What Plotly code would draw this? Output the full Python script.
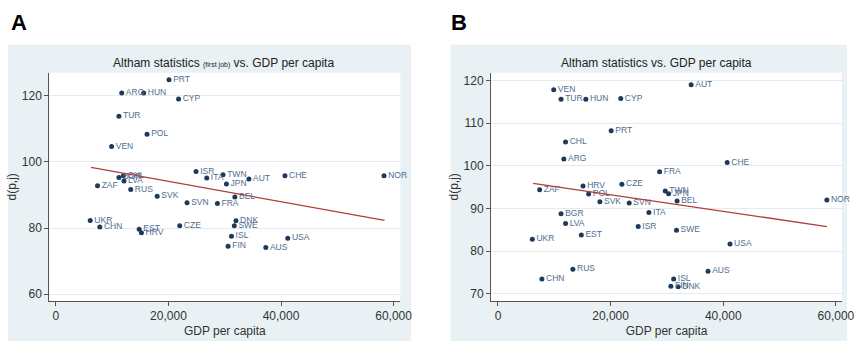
import plotly.graph_objects as go

# ---------------- Panel A data (first job) ----------------
a_countries = ["PRT", "ARG", "HUN", "CYP", "TUR", "POL", "VEN", "ISR", "ITA", "TWN",
               "JPN", "AUT", "CHE", "NOR", "BEL", "FRA", "SVN", "SVK", "RUS", "ZAF",
               "BGR", "CHL", "LVA", "UKR", "CHN", "EST", "HRV", "CZE", "DNK", "SWE",
               "ISL", "FIN", "AUS", "USA"]
a_gdp = [20100, 11700, 15600, 21800, 11200, 16200, 9900, 24900, 26800, 29700,
         30300, 34300, 40700, 58300, 31800, 28700, 23300, 18000, 13300, 7400,
         11200, 12000, 12100, 6100, 7800, 14800, 15200, 22000, 32000, 31700,
         31200, 30600, 37300, 41200]
a_d = [124.8, 120.8, 120.8, 119.0, 113.8, 108.3, 104.6, 97.1, 95.1, 96.1,
       93.3, 94.8, 95.8, 95.8, 89.4, 87.4, 87.6, 89.6, 91.6, 92.8,
       95.3, 95.8, 94.2, 82.3, 80.3, 79.6, 78.6, 80.7, 82.2, 80.7,
       77.5, 74.5, 74.1, 76.9]
a_fit_x = [6250, 58400]
a_fit_y = [98.3, 82.3]

# ---------------- Panel B data ----------------
b_countries = ["VEN", "TUR", "HUN", "CYP", "AUT", "PRT", "CHL", "ARG", "CHE", "FRA",
               "HRV", "CZE", "ZAF", "POL", "SVK", "SVN", "TWN", "JPN", "BEL", "NOR",
               "BGR", "ITA", "LVA", "ISR", "SWE", "EST", "UKR", "USA", "RUS", "AUS",
               "CHN", "ISL", "FIN", "DNK"]
b_gdp = [9900, 11200, 15600, 21800, 34300, 20100, 12000, 11700, 40700, 28700,
         15100, 22000, 7400, 16100, 18100, 23300, 29700, 30300, 31800, 58400,
         11200, 26800, 12000, 24900, 31700, 14800, 6100, 41200, 13300, 37300,
         7800, 31200, 30700, 32000]
b_d = [117.8, 115.6, 115.6, 115.8, 119.0, 108.2, 105.6, 101.6, 100.8, 98.6,
       95.3, 95.7, 94.4, 93.4, 91.6, 91.3, 94.1, 93.5, 91.8, 92.0,
       88.8, 89.1, 86.5, 85.8, 84.9, 83.8, 82.8, 81.7, 75.8, 75.3,
       73.5, 73.5, 71.8, 71.7]
b_fit_x = [6250, 58400]
b_fit_y = [95.9, 85.8]

x_ticks = [0, 20000, 40000, 60000]
a_y_ticks = [60, 80, 100, 120]
b_y_ticks = [70, 80, 90, 100, 110, 120]

W, H = 859, 345
MARKER = "#1c3a5e"
LABEL = "#4f6d8d"
FIT = "#b23c3c"
PANEL = "#e9f1f4"
FONT = "Liberation Sans, Arial, sans-serif"

def px(v):
    return v / W

def py(v):
    return 1 - v / H

fig = go.Figure()

for xs, ys, names, xa, ya in [(a_gdp, a_d, a_countries, "x", "y"),
                              (b_gdp, b_d, b_countries, "x2", "y2")]:
    fig.add_trace(go.Scatter(
        x=xs, y=ys, text=names, mode="markers+text",
        textposition="middle right",
        textfont=dict(size=8.5, color=LABEL, family=FONT),
        marker=dict(size=5, color=MARKER),
        xaxis=xa, yaxis=ya, showlegend=False, cliponaxis=False))

for fx, fy, xa, ya in [(a_fit_x, a_fit_y, "x", "y"), (b_fit_x, b_fit_y, "x2", "y2")]:
    fig.add_trace(go.Scatter(x=fx, y=fy, mode="lines",
                             line=dict(color=FIT, width=1.3),
                             xaxis=xa, yaxis=ya, showlegend=False))

axis_common = dict(
    showline=True, linecolor="#555555", linewidth=1,
    ticks="outside", ticklen=4, tickcolor="#555555",
    tickfont=dict(size=12, color="#333333", family=FONT),
    zeroline=False,
)

A_L, A_R, B_L, B_R, P_T, P_B = 50, 406, 498, 854, 73, 301.7

fig.update_layout(
    width=W, height=H,
    margin=dict(l=0, r=0, t=0, b=0),
    paper_bgcolor="white", plot_bgcolor="white",
    font=dict(family=FONT),
    xaxis=dict(domain=[px(A_L), px(A_R)], range=[-1170, 61200], anchor="y",
               tickvals=x_ticks, tickformat=",d", showgrid=False,
               title=dict(text="GDP per capita", font=dict(size=12, color="#333333"), standoff=4),
               **axis_common),
    yaxis=dict(domain=[py(P_B), py(P_T)], range=[58, 126.9], anchor="x",
               tickvals=a_y_ticks, showgrid=True, gridcolor="#e6eaec", gridwidth=1,
               title=dict(text="d(p,j)", font=dict(size=12, color="#333333"), standoff=2),
               **axis_common),
    xaxis2=dict(domain=[px(B_L), px(B_R)], range=[-1230, 61100], anchor="y2",
                tickvals=x_ticks, tickformat=",d", showgrid=False,
                title=dict(text="GDP per capita", font=dict(size=12, color="#333333"), standoff=4),
                **axis_common),
    yaxis2=dict(domain=[py(P_B), py(P_T)], range=[68.4, 121.8], anchor="x2",
                tickvals=b_y_ticks, showgrid=True, gridcolor="#e6eaec", gridwidth=1,
                title=dict(text="d(p,j)", font=dict(size=12, color="#333333"), standoff=2),
                **axis_common),
    shapes=[
        dict(type="rect", xref="paper", yref="paper", layer="below",
             x0=px(8), x1=px(417), y0=py(342), y1=py(45),
             fillcolor=PANEL, line=dict(width=0)),
        dict(type="rect", xref="paper", yref="paper", layer="below",
             x0=px(457), x1=1, y0=py(342), y1=py(45),
             fillcolor=PANEL, line=dict(width=0)),
        dict(type="rect", xref="paper", yref="paper", layer="below",
             x0=px(A_L), x1=px(A_R), y0=py(P_B), y1=py(P_T),
             fillcolor="white", line=dict(width=0)),
        dict(type="rect", xref="paper", yref="paper", layer="below",
             x0=px(B_L), x1=px(B_R), y0=py(P_B), y1=py(P_T),
             fillcolor="white", line=dict(width=0)),
    ],
    annotations=[
        dict(text="<b>A</b>", xref="paper", yref="paper", x=px(9), y=py(8),
             xanchor="left", yanchor="top", showarrow=False,
             font=dict(size=22, color="black", family=FONT)),
        dict(text="<b>B</b>", xref="paper", yref="paper", x=px(455), y=py(8),
             xanchor="left", yanchor="top", showarrow=False,
             font=dict(size=22, color="black", family=FONT)),
        dict(text="Altham statistics <span style='font-size:7px'>(first job)</span> vs. GDP per capita",
             xref="paper", yref="paper", x=px(227), y=py(63),
             xanchor="center", yanchor="middle", showarrow=False,
             font=dict(size=12, color="#222222", family=FONT)),
        dict(text="Altham statistics vs. GDP per capita",
             xref="paper", yref="paper", x=px(666), y=py(63),
             xanchor="center", yanchor="middle", showarrow=False,
             font=dict(size=12, color="#222222", family=FONT)),
    ],
)

fig.write_html("out.html", config={"displayModeBar": False})

# remove the browser's default body margin and any scrollbars so the figure sits at (0, 0)
with open("out.html", encoding="utf-8") as f:
    html = f.read()
html = html.replace("<head>", "<head><style>html,body{margin:0;padding:0;overflow:hidden;}</style>", 1)
with open("out.html", "w", encoding="utf-8") as f:
    f.write(html)
